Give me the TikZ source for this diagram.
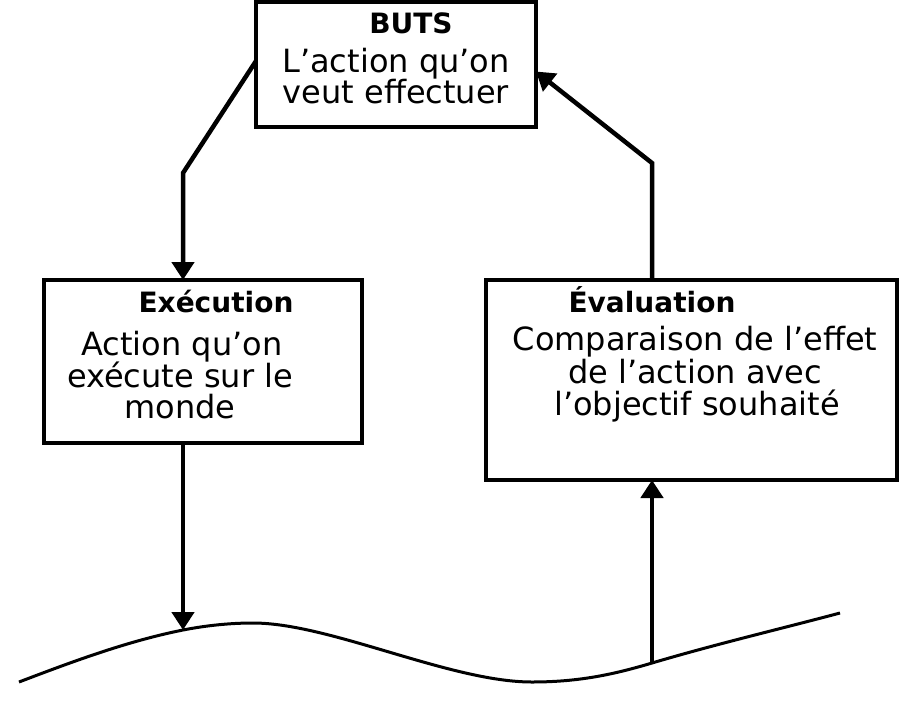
\documentclass[tikz,border=0pt]{standalone}
\usepackage{fontspec}
\setmainfont{DejaVu Sans}
\usetikzlibrary{arrows.meta}
\begin{document}
\begin{tikzpicture}[x=1pt,y=-1pt]
\tikzset{
 frame/.style={draw, line width=4pt, inner sep=0pt, outer sep=0pt},
 head/.style={font=\fontsize{28}{32}\selectfont\bfseries, anchor=base, inner sep=0pt},
 body/.style={font=\fontsize{32}{34}\selectfont, anchor=base, inner sep=0pt},
 link/.style={line width=4.5pt, -{Triangle[width=22pt,length=18pt]}},
 ground/.style={line width=3pt},
}
\useasboundingbox (0,0) rectangle (924,713);
% boxes
\node[frame, minimum width=280pt, minimum height=125pt] (buts) at (396,64.5) {};
\node[frame, minimum width=318pt, minimum height=163pt] (exec) at (203,361.5) {};
\node[frame, minimum width=411pt, minimum height=200pt] (eval) at (691.5,380) {};
% texts
\node[head] (tb) at (411,33) {BUTS};
\node[body] (tb1) at (396,72) {L’action qu’on};
\node[body] (tb2) at (396,103) {veut effectuer};
\node[head] (te) at (216,312) {Exécution};
\node[body] (te1) at (182,355) {Action qu’on};
\node[body] (te2) at (180,387) {exécute sur le};
\node[body] (te3) at (180,418) {monde};
\node[head] (tv) at (652,312) {Évaluation};
\node[body] (tv1) at (695,350) {Comparaison de l’effet};
\node[body] (tv2) at (695,383) {de l’action avec};
\node[body] (tv3) at (697,415) {l’objectif souhaité};
% points
\coordinate (c1) at (183,173);
\coordinate (c2) at (652,163);
\coordinate (w0) at (19,682);
\coordinate (w1) at (183,630);
\coordinate (pk) at (253,623);
\coordinate (tr) at (532,682);
\coordinate (w2) at (652,663);
\coordinate (w3) at (840,613);
% ground line
\draw[ground] (w0) .. controls (74,661) and (128,641) .. (w1)
  .. controls (206,625.5) and (230,623) .. (pk)
  .. controls (330,623) and (450,682) .. (tr)
  .. controls (580,682) and (615,674) .. (w2)
  .. controls (715,644.3) and (780,629) .. (w3);
% connectors
\draw[link] ([yshift=3.5pt]buts.west) -- (c1) -- (c1 |- exec.north);
\draw[link] (exec.south -| w1) -- (w1);
\draw[link] (w2) -- (w2 |- eval.south);
\draw[link] (eval.north -| c2) -- (c2) -- ([yshift=-7pt]buts.east);
\end{tikzpicture}
\end{document}
